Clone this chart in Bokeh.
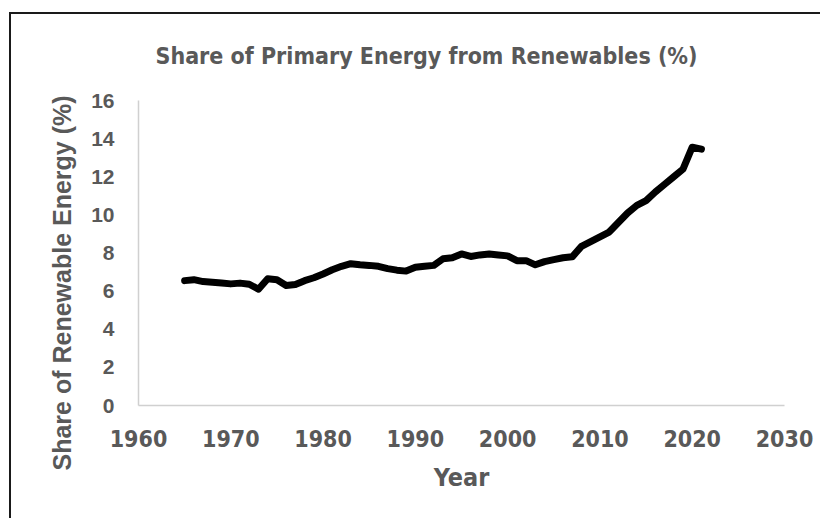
from bokeh.plotting import figure
from bokeh.models import Range1d, FixedTicker, Title
from bokeh.embed import file_html
from bokeh.resources import INLINE

years = list(range(1965, 2022))
share = [6.55, 6.60, 6.50, 6.47, 6.43, 6.38, 6.42, 6.36, 6.10, 6.65,
         6.60, 6.30, 6.35, 6.55, 6.70, 6.90, 7.12, 7.30, 7.44, 7.38,
         7.35, 7.30, 7.18, 7.10, 7.05, 7.25, 7.30, 7.35, 7.70, 7.75,
         7.95, 7.82, 7.90, 7.95, 7.90, 7.85, 7.60, 7.60, 7.38, 7.55,
         7.65, 7.75, 7.80, 8.35, 8.60, 8.85, 9.10, 9.60, 10.10, 10.50,
         10.75, 11.20, 11.60, 12.00, 12.40, 13.55, 13.45]
x_ticks = [1960, 1970, 1980, 1990, 2000, 2010, 2020, 2030]
y_ticks = [0, 2, 4, 6, 8, 10, 12, 14, 16]

title_text = "Share of Primary Energy from Renewables (%)"
x_label = "Year"
y_label = "Share of Renewable Energy (%)"

GRAY = "#595959"
NARROW = "'DejaVu Sans Condensed', 'Liberation Sans Narrow', sans-serif"

p = figure(width=820, height=518, output_backend="svg", toolbar_location=None,
           x_range=Range1d(1960, 2030), y_range=Range1d(0, 16),
           min_border_left=138, min_border_right=36, min_border_top=100,
           min_border_bottom=113)
p.styles = {
    "background": ("linear-gradient(#1a1a1a, #1a1a1a) 9px 12px / 2px 100% no-repeat, "
                   "linear-gradient(#1a1a1a, #1a1a1a) 9px 12px / 100% 2px no-repeat, "
                   "white"),
}

p.outline_line_color = None
p.background_fill_color = "white"
p.border_fill_color = None
p.xgrid.visible = False
p.ygrid.visible = False

t = Title(text=title_text, align="left", offset=17, standoff=64,
          text_font=NARROW, text_font_size="23px", text_font_style="bold",
          text_color=GRAY)
p.add_layout(t, "above")

p.line(years, share, line_color="black", line_width=7, line_join="round",
       line_cap="round")

for ax in (p.xaxis[0], p.yaxis[0]):
    ax.axis_line_color = "#d0d0d0"
    ax.axis_line_width = 1.5
    ax.major_tick_line_color = None
    ax.minor_tick_line_color = None
    ax.major_label_text_color = GRAY
    ax.axis_label_text_color = GRAY
    ax.axis_label_text_font_style = "bold"

p.xaxis.ticker = FixedTicker(ticks=x_ticks)
p.yaxis.ticker = FixedTicker(ticks=y_ticks)

p.xaxis.major_label_text_font = NARROW
p.xaxis.major_label_text_font_size = "23px"
p.xaxis.major_label_text_font_style = "bold"
p.xaxis.major_label_standoff = 18
p.xaxis.axis_label = x_label
p.xaxis.axis_label_text_font = NARROW
p.xaxis.axis_label_text_font_size = "25px"
p.xaxis.axis_label_standoff = 13

p.yaxis.major_label_text_font = "Liberation Sans"
p.yaxis.major_label_text_font_size = "21px"
p.yaxis.major_label_text_font_style = "bold"
p.yaxis.major_label_standoff = 18

ytitle = Title(text=y_label, align="left", offset=-65, standoff=26,
               text_font="Liberation Sans", text_font_size="25px",
               text_font_style="bold", text_color=GRAY)
p.add_layout(ytitle, "left")

open("out.html", "w").write(file_html(p, INLINE))
